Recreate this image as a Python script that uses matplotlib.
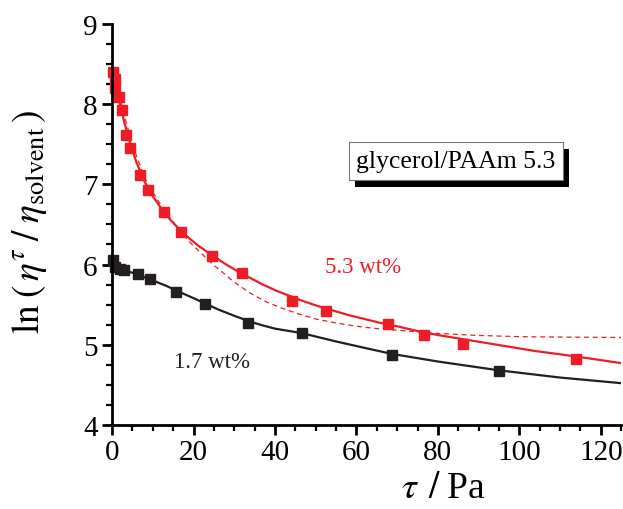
import matplotlib
matplotlib.use('Agg')
import matplotlib.pyplot as plt
from matplotlib.ticker import MultipleLocator
from matplotlib.patches import Rectangle

plt.rcParams['font.family'] = ['Liberation Serif', 'DejaVu Serif']
plt.rcParams['mathtext.fontset'] = 'stix'

red = '#ee1c25'
black = '#231f20'

# measured points, 5.3 wt%
tau_53 = [0.25, 0.7, 0.75, 1.6, 2.3, 3.3, 4.5, 6.8, 8.7, 12.7, 16.8, 24.6, 31.8,
          44.1, 52.5, 67.8, 76.6, 86.1, 113.9]
ln_53 = [8.40, 8.32, 8.20, 8.09, 7.93, 7.62, 7.45, 7.12, 6.93, 6.65, 6.41, 6.11, 5.89,
         5.55, 5.42, 5.26, 5.12, 5.01, 4.82]

# measured points, 1.7 wt%
tau_17 = [0.25, 0.66, 1.9, 3.0, 6.3, 9.2, 15.8, 22.8, 33.4, 46.6, 68.7, 95.1]
ln_17 = [6.05, 5.97, 5.95, 5.93, 5.88, 5.82, 5.66, 5.51, 5.27, 5.14, 4.87, 4.67]

# fitted curves
fit53_x = [0, 0.5, 1, 2, 3, 4.5, 6, 8, 10, 13, 17, 21, 25, 28, 31, 34, 37, 40, 43,
           46, 50, 54, 58, 62, 66, 70, 75, 80, 86, 92, 98, 104, 110, 117, 125]
fit53_y = [8.45, 8.33, 8.20, 7.98, 7.77, 7.50, 7.27, 7.03, 6.85, 6.63, 6.41, 6.24,
           6.10, 6.00, 5.91, 5.83, 5.75, 5.68, 5.62, 5.56, 5.49, 5.43, 5.37, 5.32,
           5.27, 5.23, 5.17, 5.12, 5.07, 5.02, 4.97, 4.92, 4.88, 4.83, 4.77]

dash53_x = [0, 0.5, 1, 2, 3, 4.5, 6, 8, 10, 13, 17, 20, 25, 30, 34, 38, 42, 46, 50,
            55, 60, 65, 70, 80, 90, 100, 110, 125]
dash53_y = [8.45, 8.35, 8.25, 8.05, 7.86, 7.58, 7.35, 7.08, 6.90, 6.66, 6.40, 6.23,
            5.99, 5.78, 5.64, 5.53, 5.45, 5.38, 5.32, 5.27, 5.23, 5.20, 5.18, 5.14,
            5.115, 5.10, 5.095, 5.09]

fit17_x = [0, 3, 6, 9, 13, 16, 20, 23, 26, 30, 34, 37, 40, 46.5, 55, 62, 68.7, 80,
           95, 110, 125]
fit17_y = [5.98, 5.93, 5.88, 5.82, 5.74, 5.67, 5.58, 5.51, 5.44, 5.36, 5.285, 5.24,
           5.20, 5.145, 5.04, 4.96, 4.885, 4.79, 4.68, 4.59, 4.52]

fig = plt.figure(figsize=(6.23, 5.10), dpi=100)
ax = fig.add_axes([0.18, 0.165, 0.817, 0.786])

ax.plot(fit53_x, fit53_y, color=red, lw=1.6)
ax.plot(dash53_x, dash53_y, color=red, lw=0.9, linestyle=(0, (4, 3)))
ax.plot(fit17_x, fit17_y, color=black, lw=1.6)
ax.plot(tau_53, ln_53, 's', color=red, ms=6.5, clip_on=False)
ax.plot(tau_17, ln_17, 's', color=black, ms=6.5, clip_on=False)

ax.set_xlim(0, 125)
ax.set_ylim(4, 9)
ax.xaxis.set_major_locator(MultipleLocator(20))
ax.xaxis.set_minor_locator(MultipleLocator(5))
ax.yaxis.set_major_locator(MultipleLocator(1))
ax.yaxis.set_minor_locator(MultipleLocator(0.25))

ax.spines['top'].set_visible(False)
ax.spines['right'].set_visible(False)
ax.spines['left'].set_linewidth(2)
ax.spines['bottom'].set_linewidth(2)
ax.tick_params(which='major', direction='out', length=7, width=2, labelsize=21)
ax.tick_params(which='minor', direction='out', length=4, width=1.6)

ax.set_xlabel(r'$\tau\;\,/\;$Pa', fontsize=27)
ax.xaxis.set_label_coords(0.65, -0.115)
ax.set_ylabel(r'$\mathrm{ln}\;(\,\eta^{\tau}\;/\;\eta_{\mathrm{solvent}}\,)$', fontsize=27)
ax.yaxis.set_label_coords(-0.125, 0.51)

ax.text(61.5, 5.97, '5.3 wt%', color=red, fontsize=16.5, ha='center', va='center')
ax.text(24.5, 4.79, '1.7 wt%', color=black, fontsize=16.5, ha='center', va='center')

# label box with offset shadow
ax.add_patch(Rectangle((0.477, 0.594), 0.421, 0.095, transform=ax.transAxes,
                       facecolor='black', edgecolor='none', zorder=5))
ax.add_patch(Rectangle((0.465, 0.611), 0.421, 0.095, transform=ax.transAxes,
                       facecolor='white', edgecolor='#777777', lw=0.8, zorder=6))
ax.text(0.675, 0.658, 'glycerol/PAAm 5.3', transform=ax.transAxes, fontsize=18.5,
        ha='center', va='center', zorder=7)

fig.savefig('out.png', dpi=100)
